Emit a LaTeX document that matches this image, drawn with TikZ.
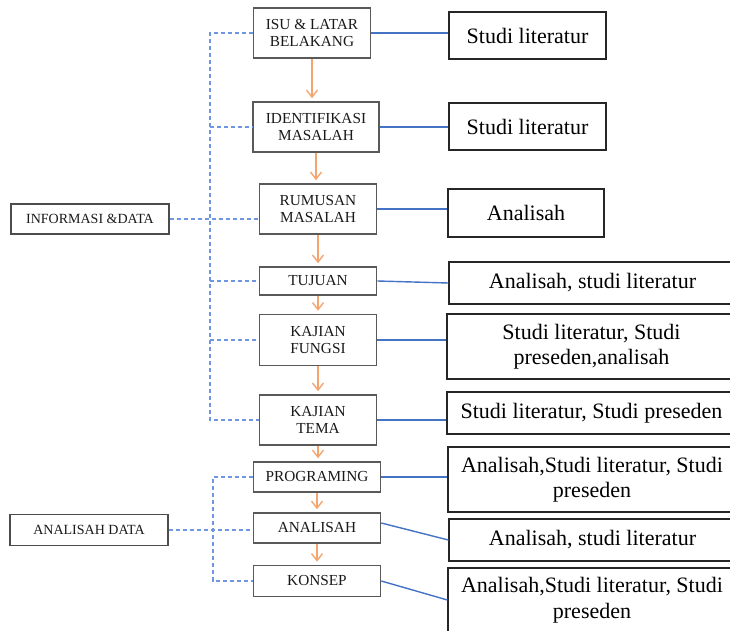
\documentclass[tikz,border=0pt]{standalone}
\usepackage{fontspec}
\setmainfont{Liberation Serif}
\usetikzlibrary{arrows.meta,calc}

\definecolor{flowor}{RGB}{244,164,110}
\definecolor{linkblue}{RGB}{68,114,196}
\definecolor{dashblue}{RGB}{110,150,225}

\begin{document}
\begin{tikzpicture}[x=1pt,y=-1pt,>={Straight Barb[length=7pt,width=11pt]},
  wh/.style 2 args={minimum width=#1,minimum height=#2},
  stage/.style={draw=black!65,line width=1.6pt,align=center,inner sep=0pt,text=black!90,font=\fontsize{15.3}{17}\selectfont},
  group/.style={draw=black!70,line width=1.4pt,inner sep=0pt,text=black!90,font=\fontsize{14}{16}\selectfont},
  method/.style={draw=black!85,line width=1.2pt,align=center,inner sep=0pt,font=\fontsize{22}{25.5}\selectfont},
  flow/.style={->,flowor,line width=1.4pt,shorten >=3pt},
  link/.style={linkblue,line width=1.4pt},
  branch/.style={dashblue,line width=1.4pt,dash pattern=on 4pt off 3pt}]
  \useasboundingbox (0,0) rectangle (730,631);
  \clip (0,0) rectangle (730,631);

  \node[stage,wh={117}{50}] (isu) at (312,33) {ISU \& LATAR\\BELAKANG};
  \node[stage,wh={126}{50}] (ident) at (316,127) {IDENTIFIKASI\\MASALAH};
  \node[stage,wh={117}{50}] (rumusan) at (318,209) {RUMUSAN\\MASALAH};
  \node[stage,wh={117}{28}] (tujuan) at (318,281) {TUJUAN};
  \node[stage,wh={117}{51}] (fungsi) at (318,340) {KAJIAN\\FUNGSI};
  \node[stage,wh={117}{50}] (tema) at (318,420) {KAJIAN\\TEMA};
  \node[stage,wh={127}{30}] (prog) at (317,477) {PROGRAMING};
  \node[stage,wh={127}{30}] (analisah) at (317,528) {ANALISAH};
  \node[stage,wh={127}{31}] (konsep) at (317,581) {KONSEP};

  \node[group,wh={158}{30}] (info) at (90,219) {INFORMASI \&DATA};
  \node[group,wh={158}{31}] (andata) at (89,530) {ANALISAH DATA};

  \node[method,wh={157}{47}] (r1) at (527.5,35.5) {Studi literatur};
  \node[method,wh={157}{47}] (r2) at (527.5,126.5) {Studi literatur};
  \node[method,wh={156}{48}] (r3) at (526,213) {Analisah};
  \node[method,wh={287}{42}] (r4) at (592.5,283) {Analisah, studi literatur};
  \node[method,wh={289}{65}] (r5) at (591.5,346.5) {Studi literatur, Studi\\preseden,analisah};
  \node[method,wh={289}{42}] (r6) at (591.5,413) {Studi literatur, Studi preseden};
  \node[method,wh={288}{65}] (r7) at (592,479.5) {Analisah,Studi literatur, Studi\\preseden};
  \node[method,wh={287}{42}] (r8) at (592.5,540) {Analisah, studi literatur};
  \node[method,wh={288}{64}] (r9) at (592,600) {Analisah,Studi literatur, Studi\\preseden};

  \coordinate (bus1) at (210,219);
  \coordinate (bus2) at (213,530);
  \draw[branch] (isu.west) -| (bus1) |- (tema.west);
  \foreach \n in {ident,tujuan,fungsi}
    \draw[branch] (bus1 |- \n.west) -- (\n.west);
  \draw[branch] (info.east) -- (info.east -| rumusan.west);
  \draw[branch] (prog.west) -| (bus2) |- (konsep.west);
  \draw[branch] (andata.east) -- (andata.east -| analisah.west);

  \foreach \a/\b in {isu/ident,ident/rumusan,rumusan/tujuan,tujuan/fungsi,fungsi/tema,tema/prog,prog/analisah,analisah/konsep}
    \draw[flow] (\a.south) -- (\a.south |- \b.north);

  \foreach \a/\b in {isu/r1,ident/r2,rumusan/r3,fungsi/r5,tema/r6,prog/r7}
    \draw[link] (\a.east) -- (\a.east -| \b.west);
  \draw[link] (tujuan.east) -- (r4.west);
  \draw[link] ([yshift=5pt]analisah.east) -- (r8.west);
  \draw[link] (konsep.east) -- (r9.west);
\end{tikzpicture}
\end{document}
